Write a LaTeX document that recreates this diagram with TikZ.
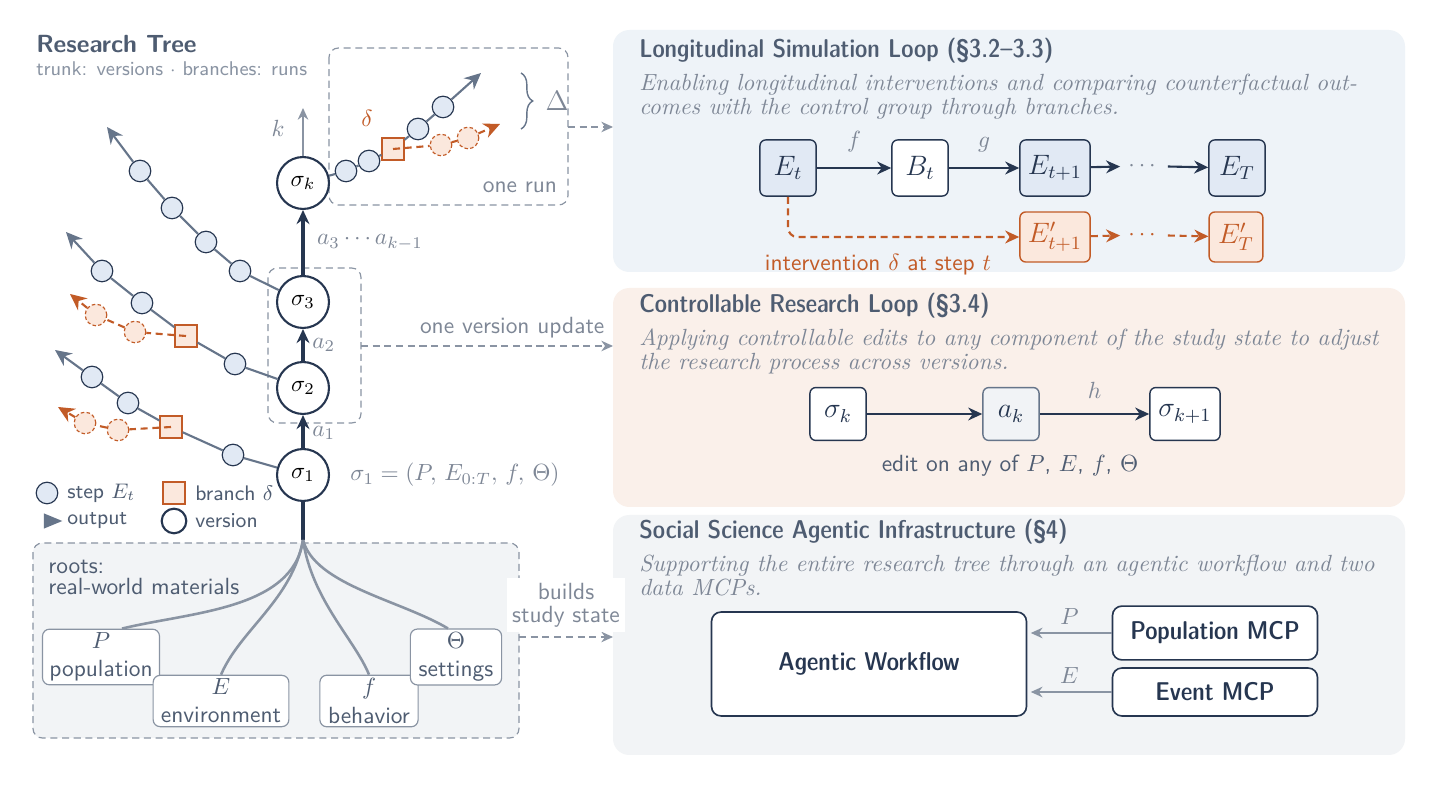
\documentclass[tikz,border=0pt]{standalone}
\usepackage{amsmath}
\usetikzlibrary{positioning, arrows.meta, shapes.geometric, decorations.pathreplacing, calc}

\definecolor{navy}{HTML}{263650}
\definecolor{slate}{HTML}{66758A}
\definecolor{mist}{HTML}{8A94A3}
\definecolor{stepfill}{HTML}{E1E9F4}
\definecolor{rust}{HTML}{C25B27}
\definecolor{rustfill}{HTML}{FBE8DD}
\definecolor{panelblue}{HTML}{EEF3F8}
\definecolor{panelpeach}{HTML}{FAF0EA}
\definecolor{panelgray}{HTML}{F2F4F6}
\definecolor{titlegray}{HTML}{4E5C71}
\definecolor{descgray}{HTML}{7E8796}
\definecolor{editfill}{HTML}{F1F3F6}

\begin{document}
\begin{tikzpicture}[
    x=0.4274pt, y=-0.4274pt,
    >={Stealth[length=6pt,width=5.5pt]},
    version/.style={circle, draw=navy, line width=0.9pt, fill=white, minimum size=22.2pt, inner sep=0pt},
    stepdot/.style={circle, draw=navy, line width=0.5pt, fill=stepfill, minimum size=9.2pt, inner sep=0pt},
    branchpt/.style={rectangle, draw=rust, line width=0.7pt, fill=rustfill, minimum size=9.2pt, inner sep=0pt},
    ghost/.style={circle, draw=rust, dash pattern=on 1.5pt off 1pt, line width=0.5pt, fill=rustfill, minimum size=9.2pt, inner sep=0pt},
    run/.style={draw=slate, line width=0.9pt},
    runout/.style={run, -{Stealth[length=7pt,width=6.5pt]}},
    altrun/.style={draw=rust, line width=0.9pt, dash pattern=on 3pt off 2pt, -{Stealth[length=7pt,width=6.5pt]}},
    trunk/.style={draw=navy, line width=1.3pt},
    groupbox/.style={draw=mist, dash pattern=on 3pt off 2pt, rounded corners=4pt, line width=0.5pt},
    connector/.style={draw=mist, dash pattern=on 3pt off 2pt, line width=0.5pt, -{Stealth[length=5pt,width=4.5pt]}},
    rootbox/.style={draw=mist, rounded corners=3pt, fill=white, line width=0.5pt, align=center, font=\sffamily, text=titlegray, inner sep=1.5pt},
    rootline/.style={draw=mist, line width=1.1pt},
    tag/.style={font=\sffamily, text=descgray},
    mathtag/.style={text=descgray},
    panel/.style={rounded corners=7pt},
    paneltitle/.style={anchor=base west, font=\sffamily\fontseries{sbc}\fontsize{11}{13}\selectfont, text=titlegray},
    paneldesc/.style={anchor=base west, align=left, font=\rmfamily\itshape\fontsize{10}{10.3}\selectfont, text=descgray},
    flowbox/.style={draw=navy, rounded corners=2.5pt, line width=0.6pt, minimum width=24pt, minimum height=24pt, inner sep=1pt, text=navy, font=\large},
    altbox/.style={flowbox, draw=rust, fill=rustfill, text=rust, minimum height=21.4pt},
    flow/.style={draw=navy, line width=0.9pt, ->},
    altflow/.style={draw=rust, line width=0.9pt, dash pattern=on 3pt off 2pt, ->},
    feed/.style={draw=mist, line width=0.7pt, -{Stealth[length=5pt,width=4.5pt]}},
    mcp/.style={draw=navy, rounded corners=4pt, line width=0.7pt, fill=white, text=navy, font=\sffamily\fontseries{sbc}\fontsize{11}{13}\selectfont}
  ]

  \fill[white] (0,0) rectangle (1436,785);
  \useasboundingbox (0,0) rectangle (1436,785);

  % panels on the right
  \fill[panel, panelblue]  (613,30)  rectangle (1405,272);
  \fill[panel, panelpeach] (613,288) rectangle (1405,507);
  \fill[panel, panelgray]  (613,515) rectangle (1405,755);
  \coordinate (panA) at (613,151);
  \coordinate (panB) at (613,397);
  \coordinate (panC) at (613,635);

  % roots area
  \draw[groupbox, fill=panelgray] (33,543) rectangle (519,738);
  \node[anchor=north west, align=left, font=\sffamily\fontsize{10}{9}\selectfont, text=titlegray] (rootslabel) at (40,552) {roots:\\real-world materials};

  % title
  \node[anchor=base west, font=\sffamily\bfseries\fontsize{10.6}{13}\selectfont, text=titlegray] (treetitle) at (28,53) {Research Tree};
  \node[anchor=base west, font=\sffamily\fontsize{8.5}{10}\selectfont, text=mist] (treesub) at (28,76) {trunk: versions $\cdot$ branches: runs};

  % group boxes
  \draw[groupbox] (329,48) rectangle (568,205);
  \draw[groupbox] (268,268) rectangle (361,423);
  \coordinate (runbox) at (568,127);
  \coordinate (verbox) at (361,346);
  \node[tag] (runlabel) at (520,187) {one run};

  % versions on the trunk
  \node[version] (s1) at (303,475) {$\sigma_1$};
  \node[version] (s2) at (303,388) {$\sigma_2$};
  \node[version] (s3) at (303,302) {$\sigma_3$};
  \node[version] (sk) at (303,183) {$\sigma_k$};
  \coordinate (rootpt) at (303,540);
  \coordinate (ktop) at (303,108);

  \draw[trunk] (rootpt) -- (s1);
  \draw[trunk, ->] (s1) -- node[right, mathtag, pos=0.45]{$a_1$} (s2);
  \draw[trunk, ->] (s2) -- node[right, mathtag]{$a_2$} (s3);
  \draw[trunk, ->] (s3) -- node[right, mathtag, xshift=2pt]{$a_3\cdots a_{k-1}$} (sk);
  \draw[draw=mist, line width=0.7pt, -{Stealth[length=5pt,width=4.5pt]}] (sk) -- (ktop);
  \node[mathtag] (klabel) at (278,128) {$k$};
  \node[mathtag, anchor=west] (s1eq) at (342,475) {$\sigma_1 = (P,\, E_{0:T},\, f,\, \Theta)$};

  % run from sigma_k
  \node[stepdot] (k1) at (346,171) {};
  \node[stepdot] (k2) at (369,161) {};
  \node[branchpt] (kq) at (393,149) {};
  \node[stepdot] (k3) at (418,129) {};
  \node[stepdot] (k4) at (443,107) {};
  \coordinate (kend) at (481,73);
  \draw[run] (sk) -- (k1) -- (k2) -- (kq) -- (k3) -- (k4);
  \draw[runout] (k4) -- (kend);
  \node[ghost] (kg1) at (441,145) {};
  \node[ghost] (kg2) at (468,138) {};
  \coordinate (kgend) at (500,124);
  \draw[altrun] (kq.center) -- (kg1) -- (kg2) -- (kgend);
  \node[text=rust] (deltalabel) at (367,118) {$\delta$};
  \coordinate (bracetop) at (521,73);
  \coordinate (bracebot) at (521,129);
  \draw[draw=slate, line width=0.6pt, decorate, decoration={brace, amplitude=5pt}] (bracetop) -- (bracebot);
  \node[mathtag, font=\large] (Delta) at (557,101) {$\Delta$};

  % runs from sigma_3
  \node[stepdot] (t1) at (240,271) {};
  \node[stepdot] (t2) at (206,242) {};
  \node[stepdot] (t3) at (172,208) {};
  \node[stepdot] (t4) at (140,171) {};
  \coordinate (tend) at (107,127);
  \draw[run] (s3) -- (t1) -- (t2) -- (t3) -- (t4);
  \draw[runout] (t4) -- (tend);

  % runs from sigma_2
  \node[stepdot] (u1) at (235,364) {};
  \node[branchpt] (uq) at (186,336) {};
  \node[stepdot] (u2) at (142,303) {};
  \node[stepdot] (u3) at (102,271) {};
  \coordinate (uend) at (66,232);
  \draw[run] (s2) -- (u1) -- (uq) -- (u2) -- (u3);
  \draw[runout] (u3) -- (uend);
  \node[ghost] (ug1) at (135,332) {};
  \node[ghost] (ug2) at (96,315) {};
  \coordinate (ugend) at (70,294);
  \draw[altrun] (uq.center) -- (ug1) -- (ug2) -- (ugend);

  % runs from sigma_1
  \node[stepdot] (v1) at (233,455) {};
  \node[branchpt] (vq) at (171,427) {};
  \node[stepdot] (v2) at (128,403) {};
  \node[stepdot] (v3) at (92,377) {};
  \coordinate (vend) at (55,350);
  \draw[run] (s1) -- (v1) -- (vq) -- (v2) -- (v3);
  \draw[runout] (v3) -- (vend);
  \node[ghost] (vg1) at (118,430) {};
  \node[ghost] (vg2) at (85,423) {};
  \coordinate (vgend) at (58,407);
  \draw[altrun] (vq.center) -- (vg1) -- (vg2) -- (vgend);

  % legend
  \node[stepdot] (legstep) at (47,493) {};
  \node[anchor=west, font=\sffamily\small, text=titlegray] at (59,493) {step $E_t$};
  \node[branchpt] (legbranch) at (174,493) {};
  \node[anchor=west, font=\sffamily\small, text=titlegray] at (187,493) {branch $\delta$};
  \node[isosceles triangle, fill=slate, minimum width=6.5pt, minimum height=7.5pt, inner sep=0pt] (legout) at (49,521) {};
  \node[anchor=west, font=\sffamily\small, text=titlegray] at (59,521) {output};
  \node[version, minimum size=10.5pt] (legver) at (174,521) {};
  \node[anchor=west, font=\sffamily\small, text=titlegray] at (187,521) {version};

  % roots
  \node[rootbox, minimum width=50pt, minimum height=23pt] (pbox) at (101,657) {$P$\\population};
  \node[rootbox, minimum width=58pt, minimum height=20.5pt] (ebox) at (221,701) {$E$\\environment};
  \node[rootbox, minimum width=42pt, minimum height=20.5pt] (fbox) at (369,701) {$f$\\behavior};
  \node[rootbox, minimum width=39pt, minimum height=23pt] (tbox) at (456,657) {$\Theta$\\settings};
  \draw[rootline] (rootpt) .. controls (293,610) and (190,612) .. (pbox.north -| 122,0);
  \draw[rootline] (rootpt) .. controls (292,600) and (240,630) .. (ebox.north);
  \draw[rootline] (rootpt) .. controls (312,600) and (355,640) .. (fbox.north);
  \draw[rootline] (rootpt) .. controls (315,585) and (400,600) .. (tbox.north -| 448,0);

  % links to the panels
  \draw[connector] (runbox) -- (runbox -| panA);
  \draw[connector] (verbox) -- node[above, tag, pos=0.6]{one version update} (verbox -| panB);
  \draw[connector] (519,637) -- (panC |- 0,637);
  \node[tag, fill=white, align=center, inner sep=2pt, font=\sffamily\fontsize{10}{10}\selectfont] (buildlabel) at (566,605) {builds\\study state};

  % Longitudinal Simulation Loop
  \node[paneltitle] (titleA) at (631,58) {Longitudinal Simulation Loop (\S3.2--3.3)};
  \node[paneldesc] (descA) at (631,115) {Enabling longitudinal interventions and comparing counterfactual out-\\comes with the control group through branches.};
  \node[flowbox, fill=stepfill] (Et) at (788,168) {$E_t$};
  \node[flowbox, fill=white] (Bt) at (920,168) {$B_t$};
  \node[flowbox, fill=stepfill, minimum width=30pt] (Et1) at (1055,168) {$E_{t+1}$};
  \node[text=descgray] (dotsA) at (1144,166) {$\cdots$};
  \node[flowbox, fill=stepfill] (ET) at (1237,168) {$E_T$};
  \draw[flow] (Et) -- node[above, mathtag, yshift=3pt]{$f$} (Bt);
  \draw[flow] (Bt) -- node[above, mathtag, yshift=3pt]{$g$} (Et1);
  \draw[flow] (Et1) -- (dotsA);
  \draw[flow] (dotsA) -- (ET);
  \node[altbox, minimum width=30pt] (Ep1) at (1055,237) {$E'_{t+1}$};
  \node[text=rust] (dotsB) at (1144,235) {$\cdots$};
  \node[altbox, minimum width=23pt] (EpT) at (1236,237) {$E'_T$};
  \draw[altflow, rounded corners=4pt] (Et) |- (Ep1);
  \draw[altflow] (Ep1) -- (dotsB);
  \draw[altflow] (dotsB) -- (EpT);
  \node[font=\sffamily, text=rust] (ivlabel) at (878,265) {intervention $\delta$ at step $t$};

  % Controllable Research Loop
  \node[paneltitle] (titleB) at (631,313) {Controllable Research Loop (\S3.4)};
  \node[paneldesc] (descB) at (631,370) {Applying controllable edits to any component of the study state to adjust\\the research process across versions.};
  \node[flowbox, fill=white, minimum height=22.6pt] (ck) at (838,414) {$\sigma_k$};
  \node[flowbox, fill=editfill, draw=slate, minimum height=22.6pt] (ak) at (1011,414) {$a_k$};
  \node[flowbox, fill=white, minimum width=30pt, minimum height=22.6pt] (ck1) at (1185,414) {$\sigma_{k+1}$};
  \draw[flow] (ck) -- (ak);
  \draw[flow] (ak) -- node[above, mathtag, yshift=3pt]{$h$} (ck1);
  \node[font=\sffamily, text=titlegray] (editlabel) at (1010,466) {edit on any of $P$, $E$, $f$, $\Theta$};

  % Social Science Agentic Infrastructure
  \node[paneltitle] (titleC) at (631,539) {Social Science Agentic Infrastructure (\S4)};
  \node[paneldesc] (descC) at (631,596) {Supporting the entire research tree through an agentic workflow and two\\data MCPs.};
  \node[mcp, minimum width=134.6pt, minimum height=44.4pt] (agent) at (869,664) {Agentic Workflow};
  \node[mcp, minimum width=87.6pt, minimum height=23pt] (popmcp) at (1215,633) {Population MCP};
  \node[mcp, minimum width=87.6pt, minimum height=20.5pt] (evmcp) at (1215,692) {Event MCP};
  \draw[feed, shorten >=1.5pt] (popmcp) -- node[above, mathtag]{$P$} (popmcp -| agent.east);
  \draw[feed, shorten >=1.5pt] (evmcp) -- node[above, mathtag]{$E$} (evmcp -| agent.east);

\end{tikzpicture}
\end{document}
